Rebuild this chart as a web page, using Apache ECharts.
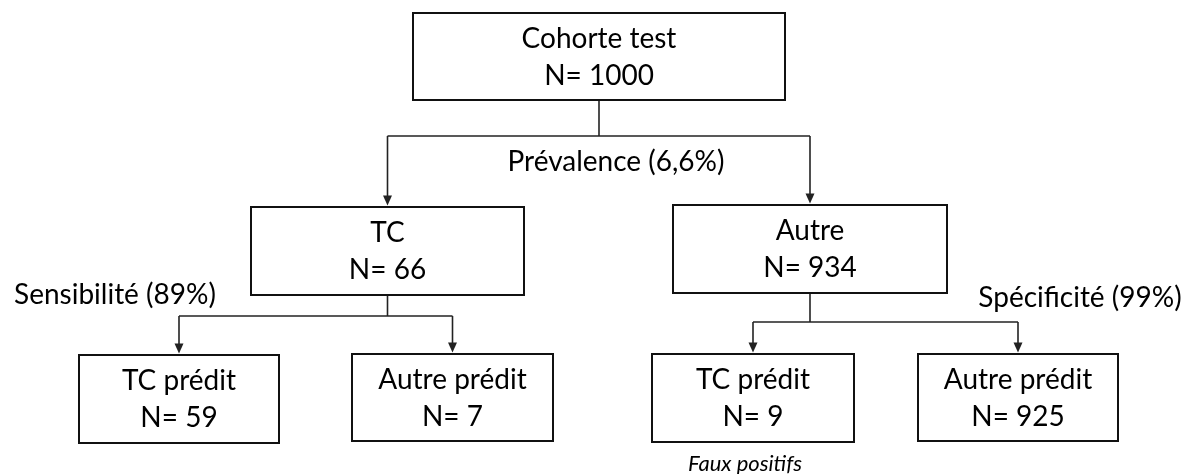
<!DOCTYPE html>
<html>
<head>
<meta charset="utf-8">
<script src="https://cdn.jsdelivr.net/npm/echarts@6/dist/echarts.min.js"></script>
<style>
  html, body { margin: 0; padding: 0; background: #fff; }
  #chart { width: 1194px; height: 474px; }
</style>
</head>
<body>
<div id="chart"></div>
<script>
// données de l'arbre
const nodeTitles = ['Cohorte test', 'TC', 'Autre', 'TC prédit', 'Autre prédit', 'TC prédit', 'Autre prédit'];
const nodeCounts = [1000, 66, 934, 59, 7, 9, 925];
const nodeParents = [-1, 0, 0, 1, 1, 2, 2];
const branchLabels = ['Prévalence (6,6%)', 'Sensibilité (89%)', 'Spécificité (99%)'];
const noteLabels = ['Faux positifs'];

// mise en page (en px, repère de la grille)
const boxX = [[413, 785], [251, 524], [673, 947], [79, 279], [352, 553], [652, 854], [918, 1118]];
const boxY = [[13, 100], [207, 295], [205, 293], [355, 443], [354, 441], [354, 442], [354, 441]];
const busY = [136, 316, 322];
const branchAnchor = [[616, 162], [115, 295], [1080, 298]];
const noteAnchor = [[745, 464]];

const FONT = '28px Lato, "Open Sans", sans-serif';
const LINE = '#222';

const cx = (i) => (boxX[i][0] + boxX[i][1]) / 2;
const parentIds = [...new Set(nodeParents.filter((p) => p >= 0))];

const renderBox = (params, api) => {
  const i = params.dataIndex;
  const p0 = api.coord([boxX[i][0], boxY[i][0]]);
  const p1 = api.coord([boxX[i][1], boxY[i][1]]);
  const mid = (p0[1] + p1[1]) / 2;
  const x = (p0[0] + p1[0]) / 2;
  return {
    type: 'group',
    children: [
      {
        type: 'rect',
        shape: { x: p0[0], y: p0[1], width: p1[0] - p0[0], height: p1[1] - p0[1] },
        style: { fill: '#fff', stroke: '#111', lineWidth: 2 },
      },
      {
        type: 'text',
        style: { text: nodeTitles[i], x: x, y: mid - 18, align: 'center', verticalAlign: 'middle', font: FONT, fill: '#000' },
      },
      {
        type: 'text',
        style: { text: 'N= ' + nodeCounts[i], x: x, y: mid + 19, align: 'center', verticalAlign: 'middle', font: FONT, fill: '#000' },
      },
    ],
  };
};

const renderLinks = (params, api) => {
  const p = parentIds[params.dataIndex];
  const kids = nodeParents.map((q, k) => (q === p ? k : -1)).filter((k) => k >= 0);
  const bus = busY[p];
  const children = [];
  const seg = (a, b) => ({
    type: 'line',
    shape: { x1: a[0], y1: a[1], x2: b[0], y2: b[1] },
    style: { stroke: LINE, lineWidth: 1.6 },
  });
  children.push(seg(api.coord([cx(p), boxY[p][1]]), api.coord([cx(p), bus])));
  const xs = kids.map(cx);
  children.push(seg(api.coord([Math.min(...xs), bus]), api.coord([Math.max(...xs), bus])));
  kids.forEach((k) => {
    const tip = api.coord([cx(k), boxY[k][0] - 1.5]);
    const top = api.coord([cx(k), bus]);
    children.push(seg(top, [tip[0], tip[1] - 9]));
    children.push({
      type: 'polygon',
      shape: { points: [[tip[0] - 4.5, tip[1] - 10], [tip[0] + 4.5, tip[1] - 10], [tip[0], tip[1]]] },
      style: { fill: LINE },
    });
  });
  return { type: 'group', children };
};

const renderLabel = (texts, anchors, font) => (params, api) => {
  const i = params.dataIndex;
  const pt = api.coord(anchors[i]);
  return {
    type: 'text',
    style: { text: texts[i], x: pt[0], y: pt[1], align: 'center', verticalAlign: 'middle', font: font, fill: '#000' },
  };
};

const chart = echarts.init(document.getElementById('chart'));
const option = {
  animation: false,
  grid: { left: 0, right: 0, top: 0, bottom: 0 },
  xAxis: { type: 'value', min: 0, max: 1194, show: false },
  yAxis: { type: 'value', min: 0, max: 474, inverse: true, show: false },
  series: [
    {
      type: 'custom',
      silent: true,
      renderItem: renderLinks,
      data: parentIds.map((p) => [cx(p), boxY[p][1]]),
    },
    {
      type: 'custom',
      silent: true,
      renderItem: renderBox,
      data: nodeCounts.map((n, i) => [cx(i), boxY[i][0], n]),
    },
    {
      type: 'custom',
      silent: true,
      renderItem: renderLabel(branchLabels, branchAnchor, FONT),
      data: branchLabels.map((t, i) => branchAnchor[i]),
    },
    {
      type: 'custom',
      silent: true,
      renderItem: renderLabel(noteLabels, noteAnchor, 'italic 22px Lato, "Open Sans", sans-serif'),
      data: noteLabels.map((t, i) => noteAnchor[i]),
    },
  ],
};
chart.setOption(option);
</script>
</body>
</html>
